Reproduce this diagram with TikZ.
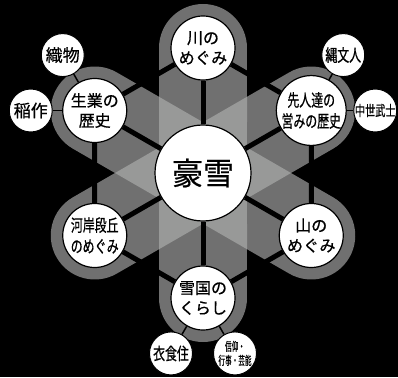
\documentclass[tikz,border=0pt]{standalone}
\usepackage{fontspec}
\newfontfamily\jpfont[FakeBold=0.6]{Noto Sans CJK JP}
\newfontfamily\jpnarrow[FakeStretch=0.7, FakeBold=0.6]{Noto Sans CJK JP}
\newfontfamily\jpthin[FakeStretch=0.55, FakeBold=0.4]{Noto Sans CJK JP}
\definecolor{bandgray}{RGB}{112,112,112}
\definecolor{stargray}{RGB}{152,153,152}
\pgfdeclarelayer{back}
\pgfsetlayers{back,main}
\tikzstyle{hub} = [circle, minimum size=96pt, inner sep=0pt, draw=black, line width=1.2pt, fill=white, font=\jpfont\fontsize{31}{36}\selectfont]
\tikzstyle{topic} = [circle, minimum size=64pt, inner sep=0pt, draw=black, line width=1.2pt, fill=white, align=center, font=\jpfont\fontsize{16}{20}\selectfont]
\tikzstyle{subtopic} = [circle, minimum size=43pt, inner sep=0pt, draw=black, line width=1pt, fill=white, align=center, font=\jpfont\fontsize{17}{20}\selectfont]
\tikzstyle{band} = [bandgray, line width=88pt, line cap=round]
\tikzstyle{spoke} = [black, line width=5pt]
\tikzstyle{link} = [black, line width=1.5pt]

\begin{document}
\begin{tikzpicture}[x=1pt, y=1pt]
    \useasboundingbox (-203,-204) rectangle (195,173);
    % centre and the six themes
    \node (snow) [hub] at (0,0) {豪雪};
    \node (river) [topic] at (90:125) {川の\\めぐみ};
    \node (pioneers) [topic, font=\jpnarrow\fontsize{17}{21}\selectfont] at (30:125) {先人達の\\営みの歴史};
    \node (mountain) [topic] at (-30:125) {山の\\めぐみ};
    \node (life) [topic] at (-90:125) {雪国の\\くらし};
    \node (terrace) [topic, font=\jpnarrow\fontsize{17}{21}\selectfont] at (210:125) {河岸段丘\\のめぐみ};
    \node (work) [topic] at (150:125) {生業の\\歴史};

    % small themes
    \path (work) ++(120:64) node (weaving) [subtopic] {織物};
    \path (work) ++(180:64) node (rice) [subtopic] {稲作};
    \path (pioneers) ++(60:64) node (jomon) [subtopic, font=\jpnarrow\fontsize{17}{20}\selectfont] {縄文人};
    \path (pioneers) ++(0:64) node (samurai) [subtopic, font=\jpnarrow\fontsize{14.5}{16}\selectfont] {中世武士};
    \path (life) ++(240:64) node (living) [subtopic, font=\jpnarrow\fontsize{17}{20}\selectfont] {衣食住};
    \path (life) ++(300:64) node (faith) [subtopic, font=\jpthin\fontsize{12}{14}\selectfont] {信仰・\\行事・芸能};

    % free ends of the short cube edges
    \path (river) ++(210:53) coordinate (riverW);
    \path (river) ++(330:53) coordinate (riverE);
    \path (pioneers) ++(150:53) coordinate (pioneersN);
    \path (pioneers) ++(270:53) coordinate (pioneersS);
    \path (mountain) ++(90:53) coordinate (mountainN);
    \path (mountain) ++(210:53) coordinate (mountainSW);
    \path (life) ++(150:53) coordinate (lifeW);
    \path (life) ++(30:53) coordinate (lifeE);
    \path (terrace) ++(90:53) coordinate (terraceN);
    \path (terrace) ++(330:53) coordinate (terraceSE);
    \path (work) ++(270:53) coordinate (workS);
    \path (work) ++(30:53) coordinate (workNE);

    % spokes
    \draw[spoke] (snow) -- (river);
    \draw[spoke] (snow) -- (pioneers);
    \draw[spoke] (snow) -- (mountain);
    \draw[spoke] (snow) -- (life);
    \draw[spoke] (snow) -- (terrace);
    \draw[spoke] (snow) -- (work);
    \draw[spoke] (river) -- (riverW) (river) -- (riverE);
    \draw[spoke] (pioneers) -- (pioneersN) (pioneers) -- (pioneersS);
    \draw[spoke] (mountain) -- (mountainN) (mountain) -- (mountainSW);
    \draw[spoke] (life) -- (lifeW) (life) -- (lifeE);
    \draw[spoke] (terrace) -- (terraceN) (terrace) -- (terraceSE);
    \draw[spoke] (work) -- (workS) (work) -- (workNE);

    % links to the small themes
    \draw[link] (weaving) -- (work);
    \draw[link] (rice) -- (work);
    \draw[link] (jomon) -- (pioneers);
    \draw[link] (samurai) -- (pioneers);
    \draw[link] (living) -- (life);
    \draw[link] (faith) -- (life);

    % bands and star behind everything
    \begin{pgfonlayer}{back}
        \fill[black] (-203,-204) rectangle (195,173);
        \draw[band] (river.center) -- (life.center);
        \draw[band] (pioneers.center) -- (terrace.center);
        \draw[band] (work.center) -- (mountain.center);
        \fill[stargray] (0:88) \foreach \a in {0,60,...,300} { -- ({\a+30}:50.8) -- ({\a+60}:88) } -- cycle;
    \end{pgfonlayer}
\end{tikzpicture}
\end{document}
